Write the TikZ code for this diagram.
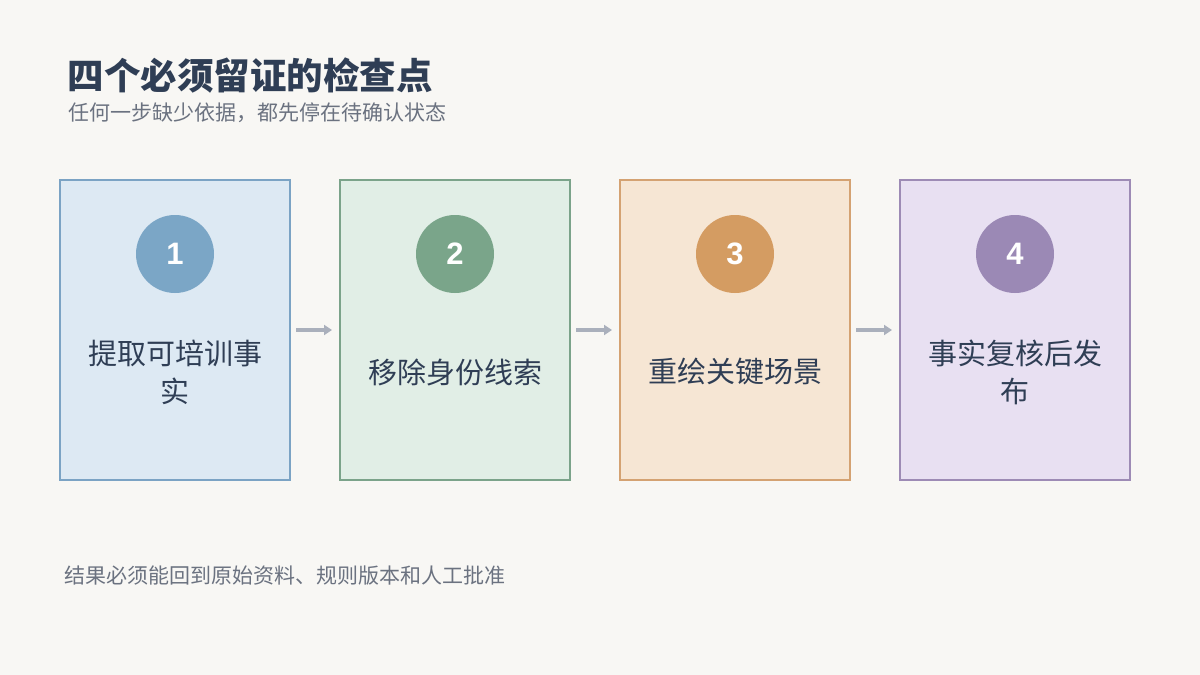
\documentclass[tikz,border=0pt]{standalone}
\usepackage{fontspec}
\setmainfont{Noto Sans CJK SC}
\newfontfamily\numfont{Liberation Sans}
\usetikzlibrary{arrows.meta}
\definecolor{bg}{HTML}{F8F7F4}
\definecolor{ttl}{HTML}{2F3E55}
\definecolor{sub}{HTML}{6B7280}
\definecolor{fA}{HTML}{DDE9F3}\definecolor{bA}{HTML}{7BA3C4}\definecolor{cA}{HTML}{7BA6C6}
\definecolor{fB}{HTML}{E1EEE6}\definecolor{bB}{HTML}{7BA38A}\definecolor{cB}{HTML}{7AA58A}
\definecolor{fC}{HTML}{F6E6D4}\definecolor{bC}{HTML}{D4A272}\definecolor{cC}{HTML}{D49C62}
\definecolor{fD}{HTML}{E8E0F2}\definecolor{bD}{HTML}{9D8BB5}\definecolor{cD}{HTML}{9B89B5}
\definecolor{arr}{HTML}{AAB0BC}
\begin{document}
\begin{tikzpicture}[x=1pt,y=-1pt,
 box/.style={draw=#1,line width=2pt,minimum width=230pt,minimum height=300pt,inner sep=0},
 num/.style={circle,fill=#1,minimum size=78pt,inner sep=0,text=white,font=\numfont\bfseries\fontsize{31pt}{34pt}\selectfont},
 lbl/.style={text=ttl,align=center,font=\fontsize{29pt}{38pt}\selectfont},
 ar/.style={arr,line width=3.5pt,-{Triangle[length=8pt,width=10pt]}}]
\fill[bg] (0,0) rectangle (1200,675);
\node[anchor=west,text=ttl,font=\bfseries\fontsize{36.5pt}{40pt}\selectfont] (t) at (64,76) {四个必须留证的检查点};
\node[anchor=west,text=sub,font=\fontsize{21pt}{24pt}\selectfont] (s) at (65,113) {任何一步缺少依据，都先停在待确认状态};
\node[anchor=west,text=sub,font=\fontsize{21pt}{24pt}\selectfont] (f) at (61,576) {结果必须能回到原始资料、规则版本和人工批准};
\node[box=bA,fill=fA] (b1) at (175,330) {};
\node[box=bB,fill=fB] (b2) at (455,330) {};
\node[box=bC,fill=fC] (b3) at (735,330) {};
\node[box=bD,fill=fD] (b4) at (1015,330) {};
\node[num=cA] (n1) at (175,254) {1};
\node[num=cB] (n2) at (455,254) {2};
\node[num=cC] (n3) at (735,254) {3};
\node[num=cD] (n4) at (1015,254) {4};
\node[lbl] (l1) at (175,372) {提取可培训事\\实};
\node[lbl] (l2) at (455,372) {移除身份线索};
\node[lbl] (l3) at (735,372) {重绘关键场景};
\node[lbl] (l4) at (1015,372) {事实复核后发\\布};
\draw[ar] ([xshift=5pt]b1.east) -- ([xshift=-7pt]b2.west);
\draw[ar] ([xshift=5pt]b2.east) -- ([xshift=-7pt]b3.west);
\draw[ar] ([xshift=5pt]b3.east) -- ([xshift=-7pt]b4.west);
\end{tikzpicture}
\end{document}
